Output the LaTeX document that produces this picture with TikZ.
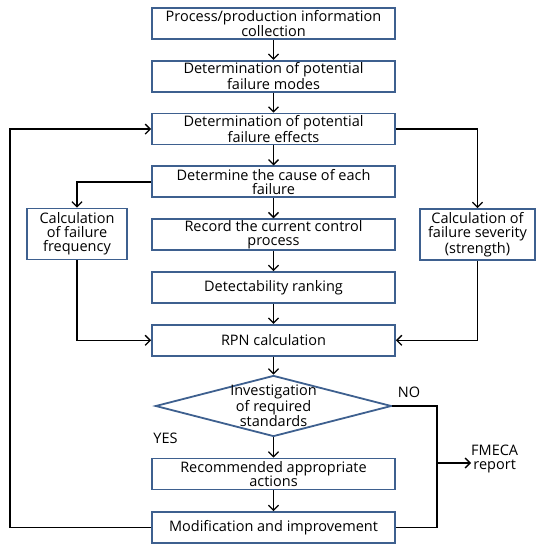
\documentclass[tikz,border=0pt]{standalone}
\usepackage{fontspec}
\setmainfont{Open Sans}
\usepackage{tikz}
\usetikzlibrary{positioning,arrows.meta,shapes.geometric}
\definecolor{boxblue}{RGB}{62,96,143}
\tikzset{
  stepnode/.style={rectangle, draw=boxblue, line width=1.8pt, fill=white,
                   minimum width=243pt, minimum height=31pt, inner sep=1pt,
                   align=center, font=\fontsize{14.5}{14.2}\selectfont},
  sidenode/.style={stepnode, minimum height=51pt},
  decision/.style={diamond, draw=boxblue, line width=1.8pt, fill=white, aspect=3.8,
                   minimum width=236pt, minimum height=61pt, inner sep=-4pt,
                   align=center, font=\fontsize{14.5}{13.5}\selectfont},
  flow/.style={-{Straight Barb[length=5pt,width=10pt]}, line width=1.3pt, black},
  link/.style={line width=1.3pt, black},
  answer/.style={font=\fontsize{14.5}{14.5}\selectfont, inner sep=0pt}
}
\begin{document}
\begin{tikzpicture}[x=1pt, y=-1pt, node distance=20pt]
\useasboundingbox (0,0) rectangle (536,545);
% main column
\node[stepnode] (collect) at (273.5,23.5) {Process/production information\\collection};
\node[stepnode, below=of collect] (modes) {Determination of potential\\failure modes};
\node[stepnode, below=of modes] (effects) {Determination of potential\\failure effects};
\node[stepnode, below=of effects] (cause) {Determine the cause of each\\failure};
\node[stepnode, below=of cause] (control) {Record the current control\\process};
\node[stepnode, below=of control] (detect) {Detectability ranking};
\node[stepnode, below=of detect] (rpn) {RPN calculation};
\node[decision] (check) at (273.5,406) {Investigation\\of required\\standards};
\node[stepnode] (action) at (273.5,474) {Recommended appropriate\\actions};
\node[stepnode] (modif) at (273.5,527.5) {Modification and improvement};
% side boxes
\node[sidenode, minimum width=100pt] (freq) at (77,234) {Calculation\\of failure\\frequency};
\node[sidenode, minimum width=115pt] (sev) at (477.5,234.5) {Calculation of\\failure severity\\(strength)};
% labels
\node[answer] (no) at (409,392) {NO};
\node[answer] (yes) at (165.5,438) {YES};
\node[answer, anchor=west, align=center] (report) at (471,459) {FMECA\\report};
\coordinate (loopL) at (10,330);
\coordinate (noX) at (437,463);
% vertical flow
\foreach \a/\b in {collect/modes, modes/effects, effects/cause, cause/control,
                   control/detect, detect/rpn, rpn/check, check/action, action/modif}
  \draw[flow] (\a) -- (\b);
% branches
\draw[flow] (cause.west) -| (freq.north);
\draw[flow] (effects.east) -| (sev.north);
\draw[flow] (freq.south) |- (rpn.west);
\draw[flow] (sev.south) |- (rpn.east);
\draw[flow] (modif.west) -| (loopL) |- (effects.west);
\draw[link] (check.east) -| (noX) |- (modif.east);
\draw[flow] (noX) -- (report.west |- noX);
\end{tikzpicture}
\end{document}
